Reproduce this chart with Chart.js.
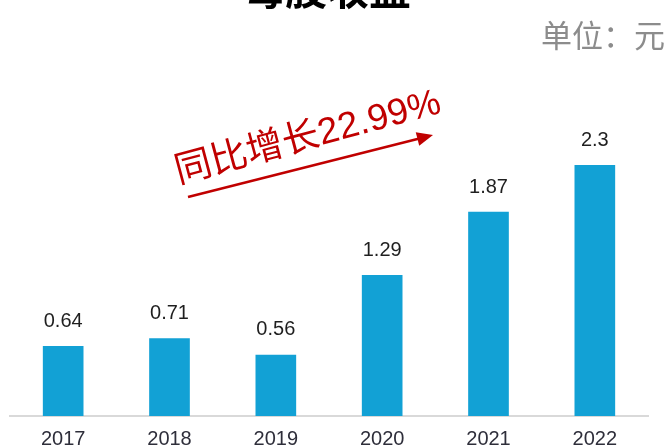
<!DOCTYPE html>
<html>
<head>
<meta charset="utf-8">
<script src="https://cdn.jsdelivr.net/npm/chart.js@4"></script>
<style>
  html, body { margin: 0; padding: 0; background: #fff; }
  #wrap { width: 666px; height: 448px; }
</style>
</head>
<body>
<div id="wrap"><canvas id="myChart" width="666" height="448"></canvas></div>
<script>
'use strict';
// data
let years = ['2017', '2018', '2019', '2020', '2021', '2022'];
let eps = [0.64, 0.71, 0.56, 1.29, 1.87, 2.3];
let epsLabels = ['0.64', '0.71', '0.56', '1.29', '1.87', '2.3'];
let titleText = '每股收益';
let unitText = '单位：元';
let growthText = '同比增长22.99%';

let FONT = '"Liberation Sans", Arial, "Noto Sans CJK SC", sans-serif';

// title, unit, value labels, red arrow note
let extras = {
  id: 'extras',
  afterDatasetsDraw(chart) {
    let ctx = chart.ctx;
    ctx.save();

    ctx.fillStyle = '#000';
    ctx.font = 'bold 42px "Noto Sans CJK SC", sans-serif';
    ctx.textAlign = 'center';
    ctx.textBaseline = 'middle';
    ctx.fillText(titleText, 327, -11);

    ctx.fillStyle = '#8c8c8c';
    ctx.font = '31px "Noto Sans CJK SC", sans-serif';
    ctx.textAlign = 'right';
    ctx.fillText(unitText, 665, 35);

    let meta = chart.getDatasetMeta(0);
    ctx.fillStyle = '#1f1f1f';
    ctx.font = '20px ' + FONT;
    ctx.textAlign = 'center';
    meta.data.forEach(function (bar, i) {
      ctx.fillText(epsLabels[i], bar.x, bar.y - 25);
    });

    // red note
    ctx.fillStyle = '#c00000';
    ctx.strokeStyle = '#c00000';
    ctx.save();
    ctx.translate(308, 138);
    ctx.rotate(-15 * Math.PI / 180);
    ctx.font = '37px ' + FONT;
    ctx.textAlign = 'center';
    ctx.fillText(growthText, 0, 0);
    ctx.restore();

    let x1 = 188, y1 = 197, x2 = 433, y2 = 135;
    let ang = Math.atan2(y2 - y1, x2 - x1);
    ctx.lineWidth = 2.5;
    ctx.beginPath();
    ctx.moveTo(x1, y1);
    ctx.lineTo(x2 - 14 * Math.cos(ang), y2 - 14 * Math.sin(ang));
    ctx.stroke();
    ctx.beginPath();
    ctx.moveTo(x2, y2);
    ctx.lineTo(x2 - 16 * Math.cos(ang) + 7 * Math.sin(ang), y2 - 16 * Math.sin(ang) - 7 * Math.cos(ang));
    ctx.lineTo(x2 - 16 * Math.cos(ang) - 7 * Math.sin(ang), y2 - 16 * Math.sin(ang) + 7 * Math.cos(ang));
    ctx.closePath();
    ctx.fill();

    ctx.restore();
  }
};

let ctx = document.getElementById('myChart');
let myChart = new Chart(ctx, {
  type: 'bar',
  data: {
    labels: years,
    datasets: [{
      data: eps,
      backgroundColor: '#12a1d5',
      barThickness: 40
    }]
  },
  options: {
    responsive: false,
    animation: false,
    layout: { padding: { top: 89, left: 10, right: 18, bottom: 0 } },
    plugins: { legend: { display: false }, tooltip: { enabled: false } },
    scales: {
      x: {
        grid: { display: false },
        border: { color: '#d9d9d9', width: 2 },
        ticks: { color: '#2e2e3a', font: { family: FONT, size: 20 }, padding: 3 },
        afterFit(scale) { scale.height = 32; }
      },
      y: {
        display: false,
        min: 0,
        max: 3
      }
    }
  },
  plugins: [extras]
});
</script>
</body>
</html>
